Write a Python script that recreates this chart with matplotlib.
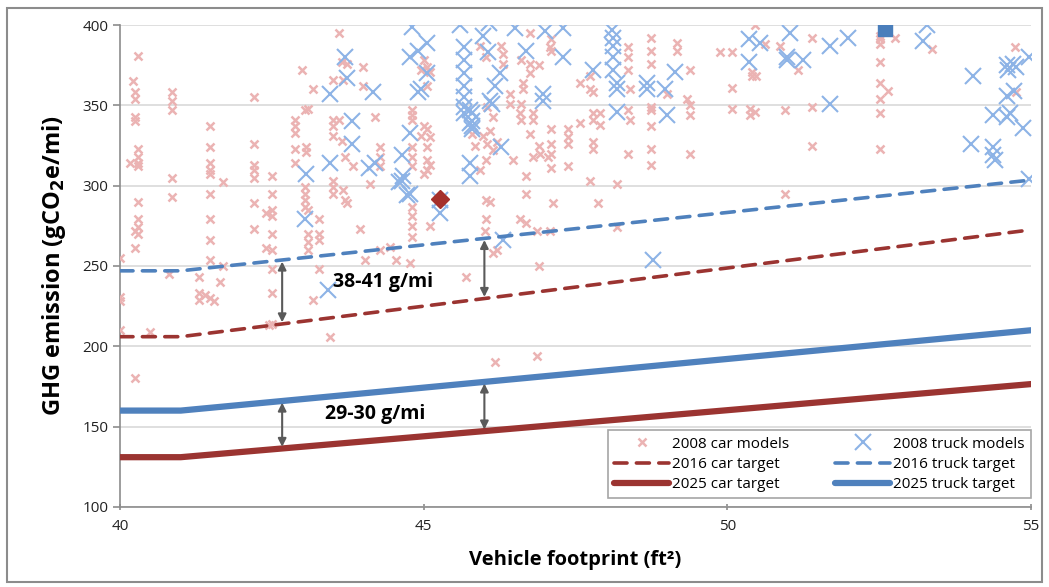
import matplotlib
matplotlib.use("Agg")
import matplotlib.pyplot as plt
from matplotlib.patches import Rectangle
import numpy as np

plt.rcParams['font.family'] = ['Open Sans', 'DejaVu Sans']

# ---------------- data ----------------
car_x = ([40.0]*4 + [40.17] + [40.22] + [40.25]*7 + [40.3]*9 + [40.5] + [40.8] + [40.85]*5
         + [41.3]*3 + [41.4] + [41.48]*10 + [41.55] + [41.65] + [41.7]*2
         + [42.2]*7 + [42.4]*2 + [42.45] + [42.5]*9 + [42.88]*5 + [43.0] + [43.05]*5
         + [43.07]*2 + [43.1]*5 + [43.18]*2 + [43.27]*4 + [43.46] + [43.5]*7 + [43.6]*2
         + [43.65]*2 + [43.67]*2 + [43.7]*2 + [43.73]*2 + [43.84] + [43.95] + [44.0]*2
         + [44.03] + [44.11] + [44.2] + [44.28]*4 + [44.44] + [44.55] + [44.77] + [44.8]*10
         + [44.96]*2 + [45.0]*3 + [45.05]*6 + [45.1]*4 + [45.7] + [45.8] + [45.85] + [45.92]*2
         + [45.98] + [46.01] + [46.03]*4 + [46.04]*2 + [46.09] + [46.1] + [46.14]*2 + [46.15]
         + [46.17] + [46.2]*2 + [46.28] + [46.31]*2 + [46.42]*2 + [46.47] + [46.58]*2
         + [46.6]*3 + [46.64]*2 + [46.69]*3 + [46.75]*4 + [46.8]*3 + [46.87]*2 + [46.9]*3
         + [46.91] + [47.05] + [47.08]*2 + [47.1]*6 + [47.13] + [47.38]*4 + [47.57]*2
         + [47.74]*3 + [47.79]*5 + [47.87] + [47.9]*2 + [48.18]*2 + [48.37]*5 + [48.4]*2
         + [48.75]*8 + [49.0] + [49.17]*2 + [49.33] + [49.39]*4 + [49.88] + [50.07]*3
         + [50.37]*2 + [50.4]*2 + [50.46]*2 + [50.48] + [50.62] + [50.87] + [50.95]*2
         + [51.17] + [51.39]*3 + [52.51]*8 + [52.65] + [52.76] + [53.37] + [54.74] + [54.76])
car_y = ([255, 231, 228, 210] + [314] + [365] + [358, 354, 343, 340, 272, 261, 180]
         + [381, 323, 318, 314, 312, 290, 279, 274, 270] + [209] + [245] + [358, 353, 347, 305, 293]
         + [243, 233, 229] + [232] + [337, 324, 314, 310, 307, 295, 279, 266, 254, 230] + [228] + [240] + [302, 250]
         + [355, 326, 313, 310, 305, 289, 273] + [283, 261] + [213] + [306, 295, 285, 281, 270, 260, 248, 233, 214]
         + [341, 337, 333, 323, 314] + [372] + [347, 299, 295, 291, 287]
         + [324, 321] + [348, 285, 270, 265, 260] + [360, 229] + [279, 270, 266, 248] + [206]
         + [366, 341, 337, 331, 303, 299, 295] + [395, 341]
         + [377, 328] + [366, 297] + [318, 291] + [376, 289] + [312] + [273] + [374, 362]
         + [254] + [301] + [343] + [324, 318, 312, 260] + [262] + [254] + [252]
         + [347, 344, 341, 324, 318, 312, 287, 281, 275, 268]
         + [331, 372] + [378, 337, 307] + [374, 362, 335, 324, 316, 310] + [371, 330, 313, 275]
         + [243] + [332] + [325] + [387, 310]
         + [331] + [272] + [380, 316, 291, 279] + [349, 326] + [290] + [334] + [322, 258] + [343]
         + [190] + [327, 260] + [387] + [382, 376] + [357, 351] + [316] + [345, 279]
         + [378, 351, 341] + [364, 360] + [306, 295, 277] + [395, 376, 370, 332] + [345, 341, 318]
         + [272, 194] + [375, 325, 250]
         + [320] + [318] + [386, 272] + [391, 384, 335, 326, 320, 311] + [289] + [335, 330, 326, 312]
         + [364, 339] + [368, 360, 303] + [358, 345, 341, 327, 323] + [289] + [345, 338] + [301, 274]
         + [386, 380, 372, 347, 320] + [360, 341]
         + [392, 384, 376, 349, 347, 337, 323, 313] + [357] + [389, 384] + [354] + [372, 350, 344, 320]
         + [383] + [383, 361, 348]
         + [348, 344] + [371, 368] + [400, 346] + [368] + [388] + [387] + [347, 295]
         + [372] + [392, 349, 325] + [393, 391, 388, 377, 364, 354, 345, 323] + [359] + [392] + [385]
         + [386] + [358])

truck_x = [43.05, 43.07, 43.43, 43.46, 43.46, 43.7, 43.73, 43.82, 43.82, 44.1, 44.17, 44.2,
           44.65, 44.65, 44.6, 44.66, 44.72, 44.77, 44.77, 44.8, 44.77, 44.9, 44.9, 45.05, 45.05,
           44.96, 45.27, 45.27, 45.6, 45.66, 45.66, 45.66, 45.66, 45.66, 45.66, 45.66,
           45.76, 45.76, 45.76, 45.76, 45.8, 45.8, 45.8, 45.8, 46.07, 46.06, 45.98, 46.25,
           46.17, 46.09, 46.12, 46.28, 46.31, 46.5, 46.69, 46.97, 46.97, 47.0, 47.3, 47.3,
           47.79, 48.1, 48.12, 48.12, 48.12, 48.12, 48.18, 48.18, 48.18, 48.67, 48.67, 48.97,
           49.14, 49.0, 48.78, 50.35, 50.35, 50.54, 50.98, 51.03, 50.98, 51.25, 51.69, 51.69,
           51.99, 53.28, 53.23, 54.05, 54.6, 54.6, 54.71, 54.76, 54.96, 54.62, 54.72, 54.38,
           54.38, 54.38, 54.65, 54.6, 54.87, 54.02, 54.4, 54.96]
truck_y = [279, 307, 235, 357, 314, 380, 367, 340, 326, 311, 358, 314,
           319, 303, 302, 306, 294, 333, 295, 399, 380, 384, 358, 370, 389,
           360, 291, 283, 400, 386, 378, 370, 362, 355, 349, 345,
           347, 339, 314, 306, 345, 340, 337, 335, 401, 383, 393, 370,
           362, 353, 351, 324, 266, 398, 384, 357, 353, 396, 398, 380,
           372, 397, 392, 387, 380, 372, 364, 360, 346, 364, 360, 360,
           371, 344, 254, 391, 377, 389, 380, 395, 378, 378, 387, 351,
           392, 400, 390, 368, 375, 356, 376, 374, 380, 372, 359, 344,
           324, 319, 345, 343, 336, 326, 316, 304]

# targets (breakpoints)
target_x = [40, 41, 55]
car2016 = [206, 206, 272.5]
truck2016 = [247, 247, 303.5]
car2025 = [131, 131, 176.5]
truck2025 = [160, 160, 210]

highlight_car = (45.27, 292)
highlight_truck = (52.6, 397.5)

gap_labels = ["38-41 g/mi", "29-30 g/mi"]
arrow_x = [42.67, 46.0]

# ---------------- plot ----------------
fig = plt.figure(figsize=(10.49, 5.87), dpi=100)
ax = fig.add_axes([0.1144, 0.1363, 0.8684, 0.8211])

car_col = '#EBB3B3'
truck_col = '#8DB3E6'
red = '#9B3431'
blue = '#4F81BD'

ax.plot(car_x, car_y, linestyle='none', marker='x', markersize=6, mew=1.8,
        color=car_col, label='2008 car models', zorder=3)
ax.plot(truck_x, truck_y, linestyle='none', marker='x', markersize=11.5, mew=1.5,
        color=truck_col, label='2008 truck models', zorder=4)

ax.plot(target_x, car2016, color=red, lw=2.6, dashes=(3.6, 2.6),
        dash_capstyle='round', label='2016 car target', zorder=5)
ax.plot(target_x, truck2016, color=blue, lw=2.6, dashes=(3.6, 2.6),
        dash_capstyle='round', label='2016 truck target', zorder=5)
ax.plot(target_x, car2025, color=red, lw=4.5, solid_capstyle='round',
        label='2025 car target', zorder=5)
ax.plot(target_x, truck2025, color=blue, lw=4.5, solid_capstyle='round',
        label='2025 truck target', zorder=5)

ax.plot([highlight_car[0]], [highlight_car[1]], marker='D', markersize=9,
        color='#A5302C', linestyle='none', zorder=6)
ax.plot([highlight_truck[0]], [highlight_truck[1]], marker='s', markersize=10,
        color='#4A7EBB', linestyle='none', zorder=6)


def yat(xs, ys, x):
    return float(np.interp(x, xs, ys))


arrow_kw = dict(arrowstyle='<|-|>', color='#5A5A5A', lw=1.5,
                mutation_scale=12, shrinkA=0, shrinkB=0)
for xa in arrow_x:
    ax.annotate('', xy=(xa, yat(target_x, truck2016, xa) - 1),
                xytext=(xa, yat(target_x, car2016, xa) + 1),
                arrowprops=arrow_kw, zorder=7)
    ax.annotate('', xy=(xa, yat(target_x, truck2025, xa) - 1),
                xytext=(xa, yat(target_x, car2025, xa) + 1),
                arrowprops=arrow_kw, zorder=7)

ax.text(43.5, 240, gap_labels[0], fontsize=14, fontweight='bold', va='center',
        ha='left', zorder=8)
ax.text(43.38, 158, gap_labels[1], fontsize=14, fontweight='bold', va='center',
        ha='left', zorder=8)

ax.set_xlim(40, 55)
ax.set_ylim(100, 400)
ax.set_xticks([40, 45, 50, 55])
ax.set_yticks(range(100, 401, 50))
ax.yaxis.grid(True, color='#D9D9D9', lw=1.2)
ax.set_axisbelow(True)
for s in ['top', 'right']:
    ax.spines[s].set_visible(False)
for s in ['left', 'bottom']:
    ax.spines[s].set_color('#8C8C8C')
    ax.spines[s].set_linewidth(1.2)
ax.tick_params(axis='both', colors='#8C8C8C', labelcolor='#222222', labelsize=11,
               length=5, width=1.2)
ax.tick_params(axis='x', direction='inout', pad=6)
ax.tick_params(axis='y', direction='out')

ax.set_xlabel('Vehicle footprint (ft²)', fontsize=14.5, fontweight='bold', labelpad=12)
ax.set_ylabel('GHG emission (gCO$_\\mathbf{2}$e/mi)', fontsize=17, fontweight='bold', labelpad=10)

handles, labels = ax.get_legend_handles_labels()
order = ['2008 car models', '2016 car target', '2025 car target',
         '2008 truck models', '2016 truck target', '2025 truck target']
hmap = dict(zip(labels, handles))
leg = ax.legend([hmap[o] for o in order], order, ncol=2, loc='lower right',
                bbox_to_anchor=(1.0, 0.018), borderaxespad=0, fontsize=11,
                frameon=True, fancybox=False, edgecolor='#A6A6A6', framealpha=1,
                handlelength=3.6, columnspacing=3.0, labelspacing=0.35,
                borderpad=0.4, handletextpad=0.2)
leg.get_frame().set_linewidth(1.2)
leg.set_zorder(10)

fig.patches.append(Rectangle((0.007, 0.008), 0.986, 0.978, transform=fig.transFigure,
                             fill=False, edgecolor='#8C8C8C', lw=1.5))

fig.savefig('out.png', dpi=100)
